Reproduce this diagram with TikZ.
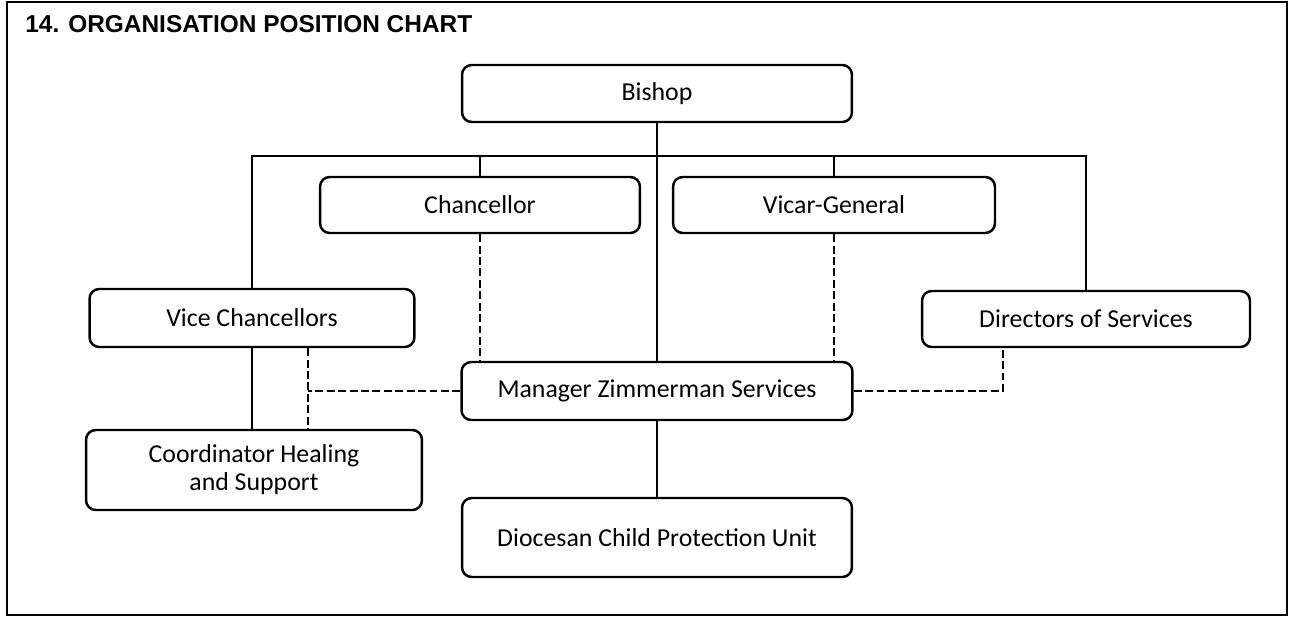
\documentclass[tikz,border=0pt]{standalone}
\usepackage{fontspec}
\setmainfont{Carlito}
\newfontfamily\arialf{Liberation Sans}
\usepackage{tikz}
\usetikzlibrary{positioning,calc}

\begin{document}
\begin{tikzpicture}[x=0.02cm, y=-0.02cm,
    box/.style={rectangle, draw, rounded corners=5.5pt, line width=1.4pt, inner sep=0pt, align=center, font=\fontsize{14.7}{16}\selectfont}, link/.style={line width=1.4pt}, dashlink/.style={line width=1.4pt, dash pattern=on 4.5pt off 2pt}
]
\useasboundingbox (0,0) rectangle (1291,622);
\draw[line width=1.6pt] (7,2) rectangle (1287,615);
\node[font=\arialf\bfseries\fontsize{13.9}{16}\selectfont, anchor=west, inner sep=0pt] (title) at (25,24) {14. ORGANISATION POSITION CHART};
\node[box, minimum width=7.8cm, minimum height=1.14cm] (bishop) at (657,93.5) {Bishop};
\node[box, minimum width=6.4cm, minimum height=1.12cm] (chanc) at (480,205) {Chancellor};
\node[box, minimum width=6.44cm, minimum height=1.12cm] (vicar) at (834,205) {Vicar-General};
\node[box, minimum width=6.5cm, minimum height=1.16cm] (vice) at (252,318) {Vice Chancellors};
\node[box, minimum width=6.56cm, minimum height=1.12cm] (dirs) at (1086,319) {Directors of Services};
\node[box, minimum width=7.82cm, minimum height=1.16cm] (mgr) at (657,391) {Manager Zimmerman Services};
\node[box, minimum width=6.72cm, minimum height=1.6cm] (coord) at (254,470) {Coordinator Healing\\and Support};
\node[box, minimum width=7.8cm, minimum height=1.58cm] (dcpu) at (657,537.5) {Diocesan Child Protection Unit};
\coordinate (bar) at (657,156);\coordinate (vcx) at (308,0);\coordinate (dsx) at (1003,0);
\draw[link] (bishop) -- (mgr);\draw[link] (mgr) -- (dcpu);
\draw[link] (vice.north) |- (bar) -| (dirs.north);
\draw[link] (chanc.north) -- (chanc.north |- bar);\draw[link] (vicar.north) -- (vicar.north |- bar);
\draw[link] (vice.south) -- (vice.south |- coord.north);
\draw[dashlink] (chanc.south) -- (chanc.south |- mgr.north);\draw[dashlink] (vicar.south) -- (vicar.south |- mgr.north);
\draw[dashlink] (vice.south -| vcx) -- (coord.north -| vcx);\draw[dashlink] (mgr.west) -- (mgr.west -| vcx);
\draw[dashlink] (mgr.east) -| (dirs.south -| dsx);
\end{tikzpicture}
\end{document}
